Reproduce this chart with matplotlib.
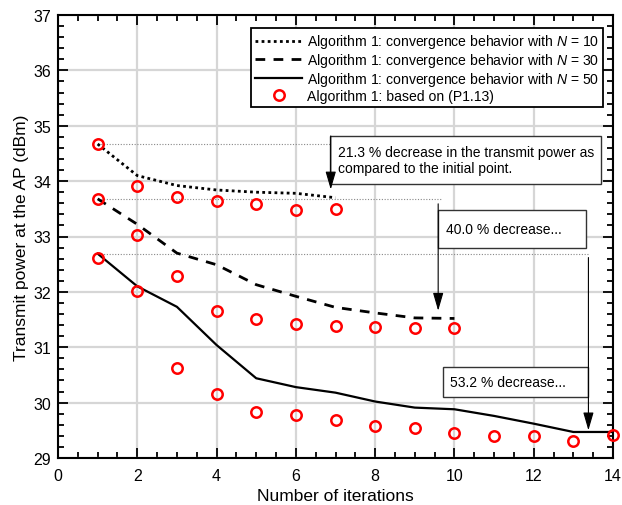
import matplotlib
matplotlib.use("Agg")
import matplotlib.pyplot as plt
from matplotlib.patches import Rectangle
from matplotlib.ticker import MultipleLocator

plt.rcParams['font.family'] = ['Liberation Sans', 'DejaVu Sans']
plt.rcParams['mathtext.fontset'] = 'custom'
plt.rcParams['mathtext.it'] = 'Liberation Sans:italic'
plt.rcParams['mathtext.rm'] = 'Liberation Sans'

# ---------------- data ----------------
iter_n10 = [1, 2, 3, 4, 5, 6, 7]
conv_n10 = [34.67, 34.10, 33.92, 33.84, 33.80, 33.78, 33.70]

iter_n30 = [1, 2, 3, 4, 5, 6, 7, 8, 9, 10]
conv_n30 = [33.68, 33.22, 32.70, 32.49, 32.13, 31.92, 31.72, 31.62, 31.53, 31.52]

iter_n50 = [1, 2, 3, 4, 5, 6, 7, 8, 9, 10, 11, 12, 13, 14]
conv_n50 = [32.69, 32.10, 31.73, 31.04, 30.44, 30.28, 30.18, 30.02, 29.91, 29.88,
            29.76, 29.62, 29.47, 29.47]

p113_x = [1, 2, 3, 4, 5, 6, 7,
          1, 2, 3, 4, 5, 6, 7, 8, 9, 10,
          1, 2, 3, 4, 5, 6, 7, 8, 9, 10, 11, 12, 13, 14]
p113_y = [34.67, 33.91, 33.71, 33.64, 33.58, 33.48, 33.49,
          33.68, 33.02, 32.29, 31.66, 31.51, 31.42, 31.38, 31.36, 31.35, 31.34,
          32.61, 32.01, 30.63, 30.16, 29.83, 29.78, 29.68, 29.58, 29.55, 29.45,
          29.40, 29.40, 29.31, 29.41]

labels = [r'Algorithm 1: convergence behavior with $N$ = 10',
          r'Algorithm 1: convergence behavior with $N$ = 30',
          r'Algorithm 1: convergence behavior with $N$ = 50',
          'Algorithm 1: based on (P1.13)']

notes = ['21.3 % decrease in the transmit power as\ncompared to the initial point.',
         '40.0 % decrease...',
         '53.2 % decrease...']

# ---------------- figure ----------------
fig = plt.figure(figsize=(6.22, 5.06), dpi=100)
ax = fig.add_axes([58/622, 47/506, 555/622, 443/506])

ax.set_xlim(0, 14)
ax.set_ylim(29, 37)
ax.xaxis.set_major_locator(MultipleLocator(2))
ax.xaxis.set_minor_locator(MultipleLocator(0.5))
ax.yaxis.set_major_locator(MultipleLocator(1))
ax.yaxis.set_minor_locator(MultipleLocator(0.2))
ax.grid(True, which='major', color='#d6d6d6', lw=1.6)
ax.set_axisbelow(True)
ax.tick_params(which='both', direction='in', top=True, right=True, labelsize=11.5,
               width=1.3, colors='black')
ax.tick_params(which='major', length=7)
ax.tick_params(which='minor', length=4)
ax.tick_params(axis='x', which='major', pad=7)
ax.tick_params(axis='y', which='major', pad=5)
for s in ax.spines.values():
    s.set_linewidth(1.5)

# reference lines
ax.plot([1, 6.87], [conv_n10[0]] * 2, color='#888888', lw=0.8, ls=(0, (1, 1.5)), zorder=2)
ax.plot([1, 9.65], [conv_n30[0]] * 2, color='#888888', lw=0.8, ls=(0, (1, 1.5)), zorder=2)
ax.plot([1, 13.37], [conv_n50[0]] * 2, color='#888888', lw=0.8, ls=(0, (1, 1.5)), zorder=2)

l1, = ax.plot(iter_n10, conv_n10, color='black', lw=2, ls=(0, (1, 1.2)), zorder=3)
l2, = ax.plot(iter_n30, conv_n30, color='black', lw=2, ls=(0, (3.5, 3)), zorder=3)
l3, = ax.plot(iter_n50, conv_n50, color='black', lw=1.6, ls='-', zorder=3)
l4, = ax.plot(p113_x, p113_y, ls='none', marker='o', ms=7.5, mfc='none', mec='red',
              mew=1.8, zorder=4, clip_on=False)

# annotation boxes
boxes = [(6.87, 33.95, 13.70, 34.815), (9.59, 32.80, 13.32, 33.48), (9.70, 30.11, 13.38, 30.65)]
arrows = [(6.88, 34.815, 33.85), (9.59, 33.59, 31.66), (13.38, 32.62, 29.50)]
for (x0, y0, x1, y1), t in zip(boxes, notes):
    ax.add_patch(Rectangle((x0, y0), x1 - x0, y1 - y0, facecolor='white',
                           edgecolor='#333333', lw=1.0, zorder=5))
    ax.text(x0 + 0.2, (y0 + y1) / 2, t, ha='left', va='center', fontsize=10,
            linespacing=1.15, zorder=6)
for x, ya, yb in arrows:
    ax.annotate('', xy=(x, yb), xytext=(x, ya),
                arrowprops=dict(arrowstyle='-|>,head_length=1.1,head_width=0.32',
                                color='black', lw=0.8, shrinkA=0, shrinkB=0,
                                mutation_scale=10),
                zorder=6)

leg = ax.legend([l1, l2, l3, l4], labels, loc='upper right', bbox_to_anchor=(0.982, 0.970),
                fontsize=10.1, frameon=True, fancybox=False, framealpha=1,
                edgecolor='black', handlelength=3.3, handletextpad=0.35,
                labelspacing=0.05, borderpad=0.3, borderaxespad=0, numpoints=1)
leg.get_frame().set_linewidth(1.3)
leg.set_zorder(7)

ax.set_xlabel('Number of iterations', fontsize=12.5, labelpad=4)
ax.set_ylabel('Transmit power at the AP (dBm)', fontsize=12.5, labelpad=3)

fig.savefig('out.png', dpi=100)
